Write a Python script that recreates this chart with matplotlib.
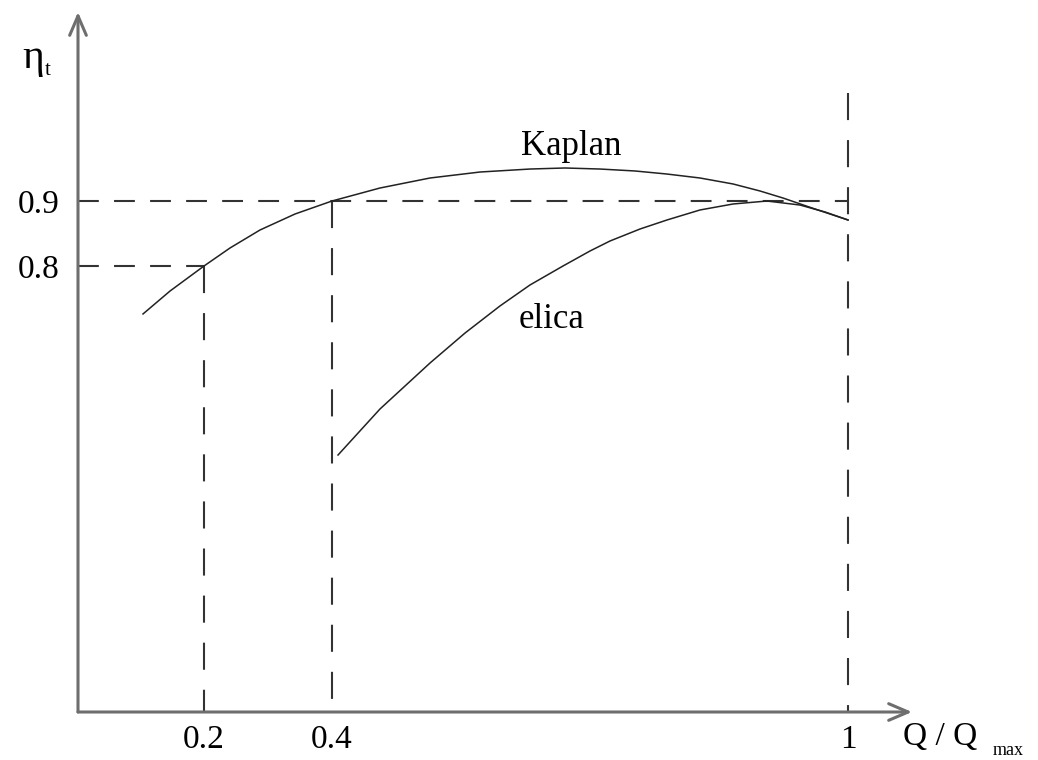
import numpy as np
import matplotlib
matplotlib.use('Agg')
import matplotlib.pyplot as plt

# efficiency curves, Q/Qmax vs eta_t
kaplan_q = [0.1047, 0.1469, 0.2, 0.2406, 0.2875, 0.3422, 0.4, 0.4558, 0.5140, 0.5721,
            0.6302, 0.6709, 0.7116, 0.7523, 0.7895, 0.8279, 0.8663, 0.8977, 0.9244,
            0.9616, 1.0]
kaplan_eta = [0.7262, 0.7615, 0.8, 0.8277, 0.8554, 0.88, 0.9, 0.92, 0.9354, 0.9446,
              0.9492, 0.9508, 0.9492, 0.9462, 0.9415, 0.9354, 0.9262, 0.9154, 0.9046,
              0.8877, 0.8708]

elica_q = [0.4070, 0.4558, 0.5140, 0.5547, 0.5953, 0.6302, 0.6686, 0.7000, 0.7233,
           0.7581, 0.7895, 0.8279, 0.8663, 0.9058, 0.9442, 0.9733, 1.0]
elica_eta = [0.5092, 0.58, 0.6508, 0.6969, 0.7385, 0.7708, 0.8, 0.8231, 0.8385,
             0.8569, 0.8708, 0.8862, 0.8954, 0.9, 0.8938, 0.8831, 0.8708]

x_ticks = [0.2, 0.4, 1.0]
x_labels = ['0.2', '0.4', '1']
y_ticks = [0.8, 0.9]
y_labels = ['0.8', '0.9']

serif = 'Liberation Serif'

# the sketch is not to scale: the stretch between 0.4 and 1 is wider
def fwd(q):
    return np.interp(q, [-1.0, 0.4, 3.0], [-640.0, 256.0, 256.0 + 860 * 2.6])

def inv(u):
    return np.interp(u, [-640.0, 256.0, 256.0 + 860 * 2.6], [-1.0, 0.4, 3.0])

fig = plt.figure(figsize=(10.38, 7.6), dpi=100)
ax = fig.add_axes([78 / 1038, 48 / 760, 834 / 1038, 700 / 760])
ax.set_xscale('function', functions=(fwd, inv))
ax.set_xlim(0.003125, 1.0744)
ax.set_ylim(0.1138, 1.1908)

for s in ax.spines.values():
    s.set_visible(False)

# axes with arrow heads
arrow = dict(arrowstyle='->,head_length=0.7,head_width=0.3', color='#6e6e6e', lw=2.2,
             shrinkA=0, shrinkB=0, mutation_scale=20)
ax.annotate('', xy=(1, 0), xytext=(0, 0), xycoords='axes fraction', arrowprops=arrow)
ax.annotate('', xy=(0, 1), xytext=(0, 0), xycoords='axes fraction', arrowprops=arrow)

ylow = ax.get_ylim()[0]
xlow = ax.get_xlim()[0]
dash_h = dict(color='#333333', lw=1.5, dashes=(10, 7.3))
dash_v = dict(color='#333333', lw=1.5, dashes=(13, 9.6))
ax.plot([xlow, 0.2], [0.8, 0.8], **dash_h)
ax.plot([xlow, 1.0], [0.9, 0.9], **dash_h)
ax.plot([0.2, 0.2], [0.8, ylow], **dash_v)
ax.plot([0.4, 0.4], [0.9, ylow], **dash_v)
ax.plot([1.0, 1.0], [1.066, ylow], **dash_v)

ax.plot(kaplan_q, kaplan_eta, color='#222222', lw=1.1)
ax.plot(elica_q, elica_eta, color='#222222', lw=1.1)

ax.text(0.678, 0.971, 'Kaplan', family=serif, fontsize=25, ha='center', va='baseline')
ax.text(0.655, 0.705, 'elica', family=serif, fontsize=25, ha='center', va='baseline')

ax.set_xticks(x_ticks, x_labels, family=serif, fontsize=24)
ax.set_yticks(y_ticks, y_labels, family=serif, fontsize=24)
ax.tick_params(axis='x', length=0, pad=9)
ax.tick_params(axis='y', length=0, pad=13)

# axis titles
fig.text(22 / 1038, 1 - 68 / 760, '\u03b7', family=serif, fontsize=30, va='baseline')
fig.text(45 / 1038, 1 - 75 / 760, 't', family=serif, fontsize=15, va='baseline')
fig.text(903 / 1038, 1 - 745 / 760, 'Q / Q', family=serif, fontsize=24, va='baseline')
fig.text(993 / 1038, 1 - 755 / 760, 'max', family=serif, fontsize=13, va='baseline')

fig.savefig('out.png', dpi=100)
